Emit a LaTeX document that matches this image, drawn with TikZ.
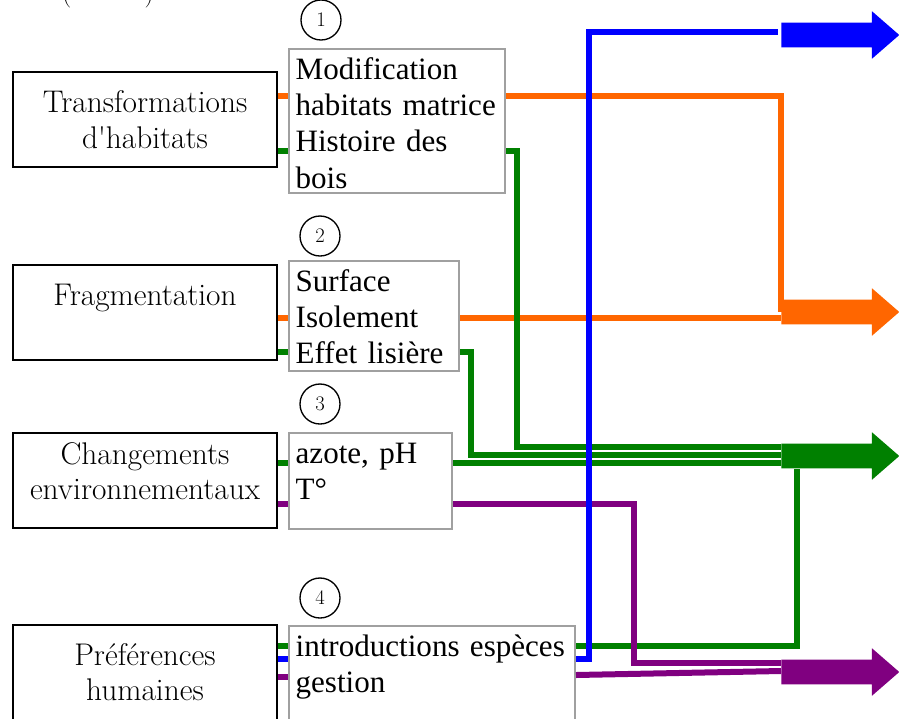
\documentclass[tikz,border=0pt]{standalone}
\usepackage{fontspec}
\newfontfamily\timesfont{Liberation Serif}
\usetikzlibrary{shapes.arrows}
\definecolor{LineOrange}{RGB}{255,102,0}
\definecolor{LineGreen}{RGB}{0,128,0}
\definecolor{LineBlue}{RGB}{0,0,255}
\definecolor{LinePurple}{RGB}{128,0,128}
\definecolor{BoxGray}{RGB}{160,160,160}
\tikzset{
  factor/.style={draw=black,line width=1.5pt,fill=white,minimum width=198pt,
    minimum height=71.25pt,align=center,inner sep=0pt,
    font=\fontsize{23.5}{26.5}\selectfont},
  detail/.style={draw=BoxGray,line width=1.5pt,fill=white,anchor=north west,
    align=left,inner xsep=5pt,inner ysep=0pt,text height=22.5pt,
    font=\timesfont\fontsize{23.3}{27.3}\selectfont},
  num/.style={circle,draw,line width=1pt,minimum size=30pt,inner sep=0pt,
    font=\fontsize{15.5}{15.5}\selectfont},
  link/.style={line width=4.5pt},
  bigarrow/.style={single arrow,draw=none,anchor=tail,inner xsep=0pt,inner ysep=9pt,
    single arrow head extend=8.6pt,single arrow tip angle=82,minimum height=88.5pt}
}

\begin{document}
\begin{tikzpicture}[x=0.75pt,y=-0.75pt]
      \useasboundingbox (0,0) rectangle (899,718);
      \node[anchor=base,inner sep=0pt,font=\fontsize{19.5}{26}\selectfont] (cut) at (108,1.5) {(\hspace{55pt})};
      \node[factor] (trans) at (145,119.5) {Transformations\\d\textquotesingle habitats};
      \node[factor] (frag) at (145,312) {Fragmentation\\\mbox{}};
      \node[factor] (env) at (145,480) {Changements\\environnementaux\\[-13pt]\mbox{}};
      \node[factor] (pref) at (145,672) {Préférences\\humaines};
      \node[detail,text width=152pt,text depth=85.5pt] (hab) at (288,48) {Modification\\habitats matrice\\Histoire des\\bois};
      \node[detail,text width=117.5pt,text depth=60pt] (frg) at (288,260) {Surface\\Isolement\\Effet lisière};
      \node[detail,text width=112.25pt,text depth=49.5pt] (chg) at (288,432) {azote, pH\\T°};
      \node[detail,text width=204.5pt,text depth=56.25pt] (hum) at (288,625) {introductions espèces\\gestion};
      \node[num] (n1) at (321,20) {1};
      \node[num] (n2) at (320,236) {2};
      \node[num] (n3) at (320,404) {3};
      \node[num] (n4) at (320,598) {4};
      \node[bigarrow,fill=LineBlue] (outb) at (781,35) {};
      \node[bigarrow,fill=LineOrange] (outo) at (781,312) {};
      \node[bigarrow,fill=LineGreen] (outg) at (781,456) {};
      \node[bigarrow,fill=LinePurple] (outp) at (781,672) {};
      \draw[link,LineOrange] (trans.east |- 0,96) -- (hab.west |- 0,96);
      \draw[link,LineOrange] (hab.east |- 0,96) -| (outo.west);
      \draw[link,LineOrange] (frag.east |- 0,318) -- (frg.west |- 0,318);
      \draw[link,LineOrange] (frg.east |- 0,318) -- (outo.west |- 0,318);
      \draw[link,LineGreen] (trans.east |- 0,151) -- (hab.west |- 0,151);
      \draw[link,LineGreen] (hab.east |- 0,151) -| (517,447) -- (outg.west |- 0,447);
      \draw[link,LineGreen] (frag.east |- 0,352) -- (frg.west |- 0,352);
      \draw[link,LineGreen] (frg.east |- 0,352) -| (471,455) -- (outg.west |- 0,455);
      \draw[link,LineGreen] (env.east |- 0,463) -- (chg.west |- 0,463);
      \draw[link,LineGreen] (chg.east |- 0,463) -- (outg.west |- 0,463);
      \draw[link,LineGreen] (pref.east |- 0,646) -- (hum.west |- 0,646);
      \draw[link,LineGreen] (hum.east |- 0,646) -| (797,0 |- outg.south);
      \draw[link,LinePurple] (env.east |- 0,504) -- (chg.west |- 0,504);
      \draw[link,LinePurple] (chg.east |- 0,504) -| (634,663) -- (outp.west |- 0,663);
      \draw[link,LinePurple] (pref.east |- 0,677) -- (hum.west |- 0,677);
      \draw[link,LinePurple] (hum.east |- 0,675) -- (outp.west |- 0,671);
      \draw[link,LineBlue] (pref.east |- 0,659) -- (hum.west |- 0,659);
      \draw[link,LineBlue,shorten >=2pt] (hum.east |- 0,659) -| (589,32) -- (outb.west |- 0,32);
    \end{tikzpicture}
\end{document}
